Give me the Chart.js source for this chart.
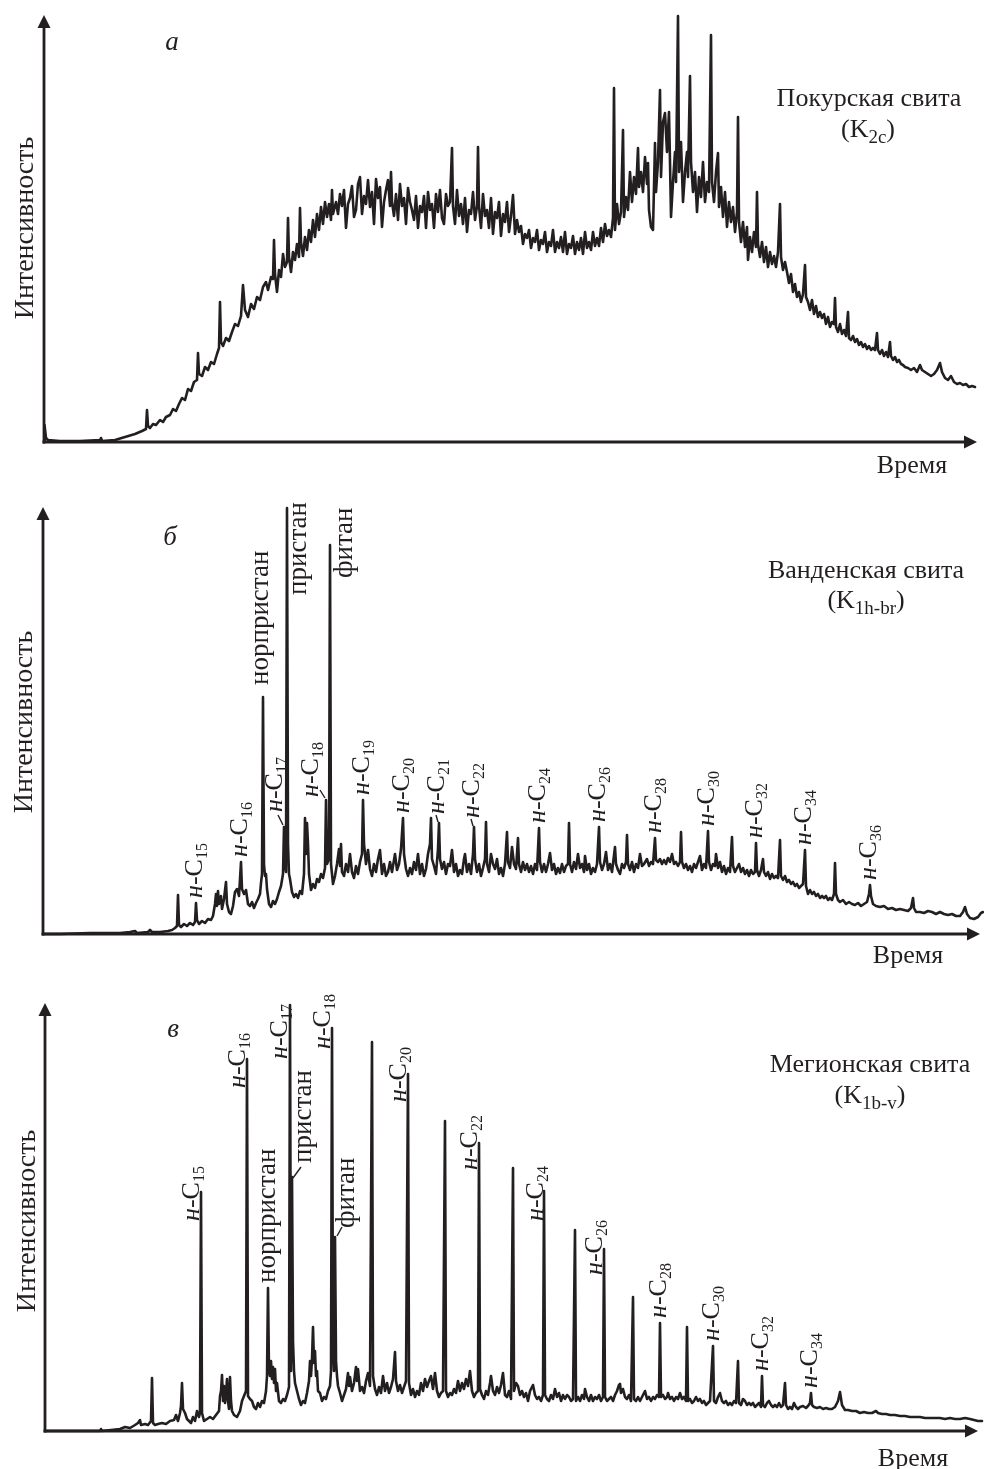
<!DOCTYPE html>
<html><head><meta charset="utf-8">
<script src="https://cdn.jsdelivr.net/npm/chart.js@4"></script>
<style>
html,body{margin:0;padding:0;background:#fff;}
body{width:984px;height:1469px;position:relative;overflow:hidden;}
canvas{position:absolute;left:0;}
</style></head>
<body>
<canvas id="ca" width="984" height="490" style="top:0px"></canvas>
<canvas id="cb" width="984" height="490" style="top:490px"></canvas>
<canvas id="cc" width="984" height="489" style="top:980px"></canvas>
<script>
// ---------- DATA (time, intensity) ----------
const chromatogramA = [
[44,0],[44.5,17],[46,4],[48,2],[60,1],[80,1],[100,2],[101,4],[102,1],[115,2],[125,5],[135,8],[142,11],[146,13],[147,32],[148,16],[150,14],[153,18],[156,17],[160,22],[163,20],[166,25],[170,27],[173,33],[176,31],[179,38],[182,44],[185,42],[188,53],[191,51],[194,60],[197,62],[198,89],[199,68],[202,66],[205,75],[208,72],[211,80],[214,78],[217,88],[219,94],[220,140],[221,100],[223,96],[226,104],[229,101],[232,110],[235,118],[238,116],[241,126],[243,157],[245,132],[248,125],[251,138],[254,133],[257,145],[260,142],[263,155],[266,160],[268,152],[271,165],[273,163],[274,202],[275,168],[277,150],[279,172],[281,165],[283,188],[285,175],[287,180],[288,224],[289,185],[291,170],[293,190],[295,182],[297,198],[299,185],[300,234],[301,200],[303,186],[305,205],[307,192],[309,212],[311,200],[313,222],[315,205],[317,228],[319,212],[321,235],[323,218],[325,240],[327,225],[329,238],[331,222],[332,252],[333,228],
[336,240],[338,228],[340,248],[342,236],[344,252],[346,214],[348,238],[350,244],[352,256],[354,225],[356,232],[358,258],[360,265],[362,228],[364,246],[366,238],[368,262],[370,235],[372,250],[374,218],[376,263],[378,244],[380,255],[382,215],[384,240],[386,252],[388,262],[390,236],[391,270],[392,240],[394,226],[396,248],[398,222],[400,258],[402,236],[404,244],[406,218],[408,254],[410,240],[412,232],[414,222],[416,246],[418,214],[420,236],[422,230],[424,246],[426,214],[428,250],[430,232],[432,238],[434,214],[436,248],[438,230],[440,252],[442,224],[444,218],[446,248],[448,236],[450,240],[452,294],[453,236],[455,218],[457,252],[459,226],[461,238],[463,218],[465,244],[467,210],[469,232],[471,228],[473,250],[475,222],[477,236],[478,295],[479,236],[481,214],[483,248],[485,226],[487,232],[489,214],[491,244],[493,208],[495,230],[497,224],[499,240],[501,206],[503,228],[505,220],[507,240],[509,210],[511,226],[513,247],[515,208],
[517,222],[519,210],[521,216],[523,198],[525,208],[527,204],[529,212],[531,194],[533,204],[535,200],[537,212],[539,192],[541,202],[543,198],[545,210],[547,190],[549,200],[551,196],[553,212],[555,190],[557,200],[559,194],[561,205],[563,190],[565,210],[567,188],[569,198],[571,194],[573,206],[575,188],[577,200],[579,192],[581,204],[583,188],[585,210],[587,194],[589,200],[591,192],[593,210],[595,196],[597,204],[599,196],[601,214],[603,200],[605,218],[607,206],[609,212],[611,205],[613,224],[614,354],[615,212],[617,238],[619,218],[621,230],[623,312],[624,225],[626,245],[628,232],[630,270],[632,240],[634,265],[636,248],[638,294],[639,255],[641,270],[643,250],[645,285],[647,258],[648,279],[649,232],[651,215],[653,212],[655,299],[656,250],[658,280],[660,352],[661,265],[663,320],[665,329],[667,290],[669,330],[670,280],[671,225],[673,260],[675,290],[676,260],[678,426],[679,270],[681,300],[683,240],[685,270],[687,290],[688,265],[690,366],[691,280],[693,250],[695,270],[697,230],[699,265],[701,245],[703,280],[705,240],[707,260],[709,250],[711,407],[712,260],[714,240],[716,270],[718,289],[719,235],[721,255],[723,225],[725,250],[727,215],[729,240],[731,220],[733,235],[735,210],[737,230],[738,325],[739,220],[741,200],[743,220],[745,195],[747,215],[748,182],[750,205],[752,190],[754,210],[756,195],[757,250],[758,198],[760,185],[762,200],[764,180],[766,195],[768,175],[770,190],[772,178],[774,186],[776,175],[778,190],[780,238],[781,185],[783,172],[785,180],[787,170],[789,159],[791,168],[793,150],[795,158],[797,145],[799,150],[801,140],[803,148],[805,177],[806,145],[808,140],[810,132],[812,142],[814,128],[816,136],[818,125],[820,130],[822,124],[824,128],[826,118],[828,125],[830,115],[832,120],[834,118],[835,144],[836,115],[838,110],[840,118],[842,108],[844,112],[846,106],[848,130],[849,104],[851,102],[853,106],[855,100],[857,103],[859,97],[861,100],[863,95],[865,98],[867,93],[869,96],[871,92],[873,94],[875,92],[877,109],[878,92],[880,88],[882,92],[884,86],[886,90],[888,85],[890,100],[891,86],[893,82],[895,85],[897,80],[899,82],[901,78],[903,77],[905,75],[908,74],[911,72],[914,74],[917,70],[920,77],[922,72],[925,70],[928,68],[931,66],[934,68],[937,72],[940,79],[942,70],[945,64],[948,62],[951,66],[954,60],[957,58],[960,59],[963,57],[966,58],[969,55],[972,56],[975,55]
];

const chromatogramB = [
[43,0],[60,0],[90,1],[110,1],[120,1],[130,2],[135,3],[137,1],[148,2],[150,4],[152,2],[160,2],[168,3],[172,4],[175,6],[177,8],[178,39],[179,9],[181,7],[184,10],[187,8],[190,11],[193,9],[195,12],[196,31],[197,14],[199,10],[202,13],[205,11],[208,15],[211,14],[213,18],[215,30],[216,40],[217,28],[218,43],[219,30],[221,38],[222,25],[224,35],[226,52],[227,30],[229,22],[231,20],[233,28],[235,42],[237,45],[239,38],[241,72],[242,45],[244,40],[246,44],[248,30],[250,28],[252,32],[254,26],[256,31],[258,35],[260,40],[261,51],[262,60],[263,237],[264,70],[265,58],[266,60],[267,45],[269,30],[271,27],[273,33],[275,30],[277,35],[279,42],[281,48],[283,60],[284,107],[285,70],[286,62],[287,426],[288,90],[289,60],[290,55],[292,42],[294,37],[296,40],[298,36],[300,43],[302,40],[304,60],[305,116],[306,80],[307,111],[308,90],[309,60],[311,44],[313,50],[315,46],[317,55],[319,52],[321,60],[323,56],[325,66],[326,134],[327,70],[329,75],[330,389],[331,70],[333,50],[335,58],[337,70],[339,85],[340,68],[341,90],[342,62],[344,58],[346,70],[348,62],[350,80],[352,62],[354,56],[356,68],[358,60],[360,72],[362,80],[363,134],[364,90],[366,70],[368,84],[370,65],[372,58],[374,70],[376,62],[378,75],[380,84],[382,60],[384,70],[386,58],[388,62],[390,72],[392,62],[395,80],[397,64],[399,70],[401,85],[403,116],[404,80],[406,65],[408,58],[410,66],[412,60],[414,72],[416,64],[418,80],[420,60],[422,70],[424,58],[426,65],[428,80],[430,90],[431,116],[432,75],[434,68],[436,60],[438,85],[439,111],[440,75],[442,65],[444,72],[446,60],[448,70],[450,68],[452,84],[454,62],[456,70],[458,58],[460,64],[462,60],[464,75],[465,80],[467,62],[469,70],[471,60],[473,80],[474,107],[475,75],[477,62],[479,70],[481,58],[483,66],[485,75],[486,112],[487,70],[489,62],[491,80],[493,70],[495,65],[497,75],[499,60],[501,66],[503,58],[505,70],[507,102],[508,72],[510,66],[512,87],[514,70],[516,65],[518,96],[519,70],[521,62],[523,72],[525,64],[527,70],[529,62],[531,68],[533,60],[535,70],[537,64],[539,106],[540,72],[542,62],[544,70],[546,62],[548,70],[550,81],[552,64],[554,70],[556,60],[558,66],[560,61],[562,70],[564,62],[566,68],[568,70],[569,111],[570,70],[572,62],[574,72],[576,65],[578,80],[580,66],[582,70],[584,62],[585,78],[587,64],[589,70],[591,60],[593,66],[595,62],[597,70],[599,107],[600,72],[602,64],[604,70],[606,82],[608,64],[610,70],[612,62],[615,87],[616,70],[618,64],[620,60],[622,70],[624,66],[626,72],[627,99],[628,70],[630,64],[632,72],[634,62],[636,70],[638,66],[640,80],[642,68],[644,70],[647,75],[649,68],[651,72],[653,70],[655,96],[656,74],[658,72],[660,75],[662,70],[664,74],[666,70],[668,76],[670,72],[672,80],[674,70],[676,72],[678,68],[680,72],[681,102],[682,72],[684,66],[686,70],[688,64],[690,68],[692,62],[694,70],[696,66],[698,72],[700,78],[702,64],[704,70],[706,66],[708,103],[709,72],[711,64],[713,70],[715,68],[716,80],[718,66],[720,72],[722,62],[724,68],[726,60],[728,66],[730,62],[732,97],[733,68],[735,62],[737,66],[739,70],[741,62],[743,66],[745,60],[747,64],[749,58],[751,64],[753,60],[755,62],[756,91],[757,64],[759,58],[761,64],[763,75],[764,62],[766,58],[768,62],[770,55],[772,60],[774,56],[776,58],[778,56],[780,94],[781,58],[783,54],[785,58],[787,52],[789,54],[791,50],[793,52],[795,48],[797,50],[799,46],[801,48],[803,50],[805,84],[806,48],[808,40],[810,44],[812,40],[814,42],[816,38],[818,40],[820,36],[822,38],[824,36],[826,38],[828,34],[830,36],[832,34],[834,40],[835,71],[836,40],[838,34],[840,32],[843,34],[846,30],[849,32],[852,30],[855,29],[858,31],[861,28],[864,30],[867,32],[869,40],[870,49],[871,38],[873,30],[876,28],[880,27],[884,28],[888,25],[892,26],[896,24],[900,25],[904,24],[908,23],[911,26],[913,36],[914,26],[916,22],[920,22],[924,21],[928,23],[932,22],[936,20],[940,22],[944,20],[948,19],[952,20],[956,18],[960,18],[963,22],[965,27],[967,20],[970,16],[974,15],[978,17],[981,21],[983,22]
];

const chromatogramC = [
[45,0],[70,0],[100,0],[101,2],[102,0],[120,2],[125,4],[130,3],[135,6],[138,8],[140,11],[141,6],[145,7],[148,6],[151,10],[152,53],[153,8],[155,6],[158,7],[162,8],[166,7],[170,10],[174,11],[176,16],[178,10],[180,18],[181,25],[182,48],[183,22],[185,18],[187,12],[189,10],[191,8],[193,14],[195,10],[197,20],[199,14],[200,18],[201,239],[202,18],[204,10],[207,12],[210,14],[213,12],[216,16],[219,20],[220,35],[221,40],[222,56],[223,30],[224,45],[225,28],[226,38],[227,52],[228,30],[229,22],[230,54],[231,30],[232,20],[234,16],[237,14],[240,20],[242,30],[244,35],[246,40],[247,372],[248,35],[250,32],[252,30],[254,24],[256,22],[258,28],[260,24],[262,30],[264,28],[266,40],[267,55],[268,143],[269,60],[270,55],[271,70],[272,52],[273,64],[274,48],[275,62],[276,40],[277,48],[279,30],[281,28],[283,32],[285,30],[287,36],[289,44],[290,426],[291,60],[292,254],[293,90],[294,60],[295,48],[297,40],[299,32],[301,26],[303,30],[305,28],[307,38],[309,50],[310,70],[311,55],[312,72],[313,104],[314,68],[315,80],[316,55],[317,60],[318,40],[320,38],[322,30],[324,34],[326,32],[328,40],[330,45],[331,60],[332,403],[333,80],[334,60],[335,194],[336,70],[337,55],[338,45],[340,38],[342,30],[344,36],[346,42],[348,58],[349,45],[350,54],[352,40],[354,48],[356,64],[357,50],[358,62],[360,40],[362,44],[364,38],[366,50],[368,58],[370,45],[372,389],[373,55],[375,42],[377,36],[379,44],[381,38],[383,55],[385,40],[387,48],[389,38],[391,44],[393,52],[395,79],[396,50],[398,40],[400,46],[402,38],[404,44],[406,50],[408,357],[409,48],[411,36],[413,42],[415,34],[417,40],[419,36],[421,48],[423,40],[425,52],[427,44],[429,50],[431,55],[433,42],[435,58],[437,40],[439,34],[441,38],[443,40],[445,310],[446,40],[448,34],[450,38],[452,36],[454,42],[456,38],[458,50],[460,40],[462,48],[464,42],[466,52],[468,45],[470,60],[472,40],[474,34],[476,38],[478,40],[479,288],[480,42],[482,36],[484,32],[486,40],[488,36],[490,48],[491,55],[493,40],[495,36],[497,44],[499,38],[501,46],[503,58],[505,36],[507,34],[509,40],[511,32],[513,263],[514,40],[516,48],[518,45],[520,36],[522,40],[524,34],[526,38],[528,30],[530,40],[533,46],[535,36],[537,32],[539,34],[541,30],[543,36],[544,240],[545,36],[547,32],[549,30],[551,36],[553,32],[555,42],[557,34],[559,38],[561,30],[563,36],[565,32],[567,36],[569,34],[571,30],[573,32],[575,201],[576,30],[578,34],[580,30],[582,36],[584,32],[585,42],[587,34],[589,30],[591,36],[593,30],[595,34],[597,32],[599,36],[601,30],[603,34],[604,182],[605,34],[607,30],[609,32],[611,34],[613,30],[615,36],[617,40],[619,46],[620,47],[621,38],[623,42],[625,34],[627,32],[629,36],[631,30],[633,134],[634,32],[636,30],[638,34],[640,30],[642,34],[644,38],[645,40],[647,32],[649,34],[651,30],[653,34],[655,32],[657,36],[659,34],[660,108],[661,34],[663,36],[665,32],[667,34],[668,38],[670,32],[672,34],[674,30],[676,34],[678,32],[680,38],[682,32],[684,34],[686,30],[687,104],[688,30],[690,32],[692,28],[694,30],[696,34],[698,30],[700,32],[702,28],[704,30],[706,26],[708,28],[710,30],[713,85],[714,30],[716,28],[718,34],[720,38],[722,30],[724,28],[726,30],[728,26],[730,28],[732,26],[734,30],[736,28],[738,70],[739,28],[741,26],[743,32],[745,30],[747,26],[749,28],[751,26],[753,28],[755,24],[757,26],[759,28],[761,24],[762,55],[763,26],[765,24],[767,28],[769,30],[771,26],[773,24],[775,26],[777,24],[779,28],[781,24],[783,26],[785,48],[786,26],[788,22],[790,24],[792,22],[794,28],[796,24],[798,22],[800,24],[803,25],[806,23],[808,25],[810,28],[811,38],[812,26],[814,24],[817,23],[820,24],[823,22],[826,23],[829,22],[832,22],[835,24],[838,30],[840,39],[842,26],[845,21],[848,21],[852,20],[856,20],[860,18],[864,19],[868,18],[872,18],[876,20],[878,18],[882,17],[886,17],[890,16],[895,16],[900,15],[905,15],[910,14],[915,14],[920,14],[925,13],[930,13],[935,13],[940,13],[945,12],[950,13],[955,12],[960,12],[965,13],[970,12],[974,11],[978,10],[982,10]
];

// peak names and the retention time of each labelled peak
const peakNamesB = ['н-C15','н-C16','норпристан','н-C17','пристан','н-C18','фитан','н-C19','н-C20','н-C21','н-C22','н-C24','н-C26','н-C28','н-C30','н-C32','н-C34','н-C36'];
const peakTimesB = [196,241,263,284,287,326,330,363,403,439,474,539,599,655,708,756,805,870];
const peakNamesC = ['н-C15','н-C16','норпристан','н-C17','пристан','н-C18','фитан','н-C20','н-C22','н-C24','н-C26','н-C28','н-C30','н-C32','н-C34'];
const peakTimesC = [201,247,268,290,292,332,335,408,479,544,604,660,713,762,811];

// text
const panelLetters = ['а','б','в'];
const formationNames = ['Покурская свита','Ванденская свита','Мегионская свита'];
const formationIndex = ['2c','1h-br','1b-v'];
const yTitle = 'Интенсивность';
const xTitle = 'Время';

// ---------- STYLE / LAYOUT ----------
const INK = '#231f20';
const SERIF = "'Liberation Serif','Times New Roman','DejaVu Serif',serif";

// label placement: dx = baseline offset from peak (px), dy = start of text from peak top (px), tick = leader line offsets
const placeB = {
  'норпристан':{dx:5,dy:-12}, 'пристан':{dx:19,dy:87}, 'фитан':{dx:22,dy:33},
  'н-C17':{dx:-2,dy:-15,tick:[-1,-2,-6,-12]}, 'н-C18':{dx:-8,dy:-3,tick:[-1,-2,-6,-10]},
  'н-C21':{dx:5,dy:-9,tick:[-1,-1,-3,-8]}, 'н-C22':{dx:5,dy:-9,tick:[-1,-1,-3,-8]}
};
const placeC = {
  'н-C15':{dx:-2,dy:29}, 'н-C16':{dx:-2,dy:29}, 'н-C20':{dx:-2,dy:28}, 'н-C22':{dx:-2,dy:27},
  'н-C24':{dx:-1,dy:30}, 'н-C26':{dx:-2,dy:26},
  'н-C17':{dx:-3,dy:54}, 'н-C18':{dx:-2,dy:21},
  'норпристан':{dx:7,dy:-5},
  'пристан':{dx:19,dy:-14,tick:[1,1,9,-10]},
  'фитан':{dx:19,dy:-9,tick:[2,-1,7,-10]}
};

const panels = [
  {id:'ca', data:chromatogramA, xmin:44, xmax:984, axisEnd:977, ymax:427, pad:{left:44,right:0,top:15,bottom:48},
   letterPos:[172,50], namePos:[869,106], indexPos:[868,137], timePos:[912,473], yTitlePos:[33,228], names:[], times:[], place:{}},
  {id:'cb', data:chromatogramB, xmin:43, xmax:984, axisEnd:980, ymax:427, pad:{left:43,right:0,top:17,bottom:46},
   letterPos:[170,55], namePos:[866,88], indexPos:[866,118], timePos:[908,473], yTitlePos:[32,232], names:peakNamesB, times:peakTimesB, place:placeB},
  {id:'cc', data:chromatogramC, xmin:45, xmax:984, axisEnd:978, ymax:428, pad:{left:45,right:0,top:23,bottom:38},
   letterPos:[173,57], namePos:[870,92], indexPos:[870,123], timePos:[913,486], yTitlePos:[35,241], names:peakNamesC, times:peakTimesC, place:placeC}
];

function font(size, italic){ return (italic?'italic ':'') + size + 'px ' + SERIF; }
function partsWidth(ctx, parts){ let w=0; for(const p of parts){ ctx.font=font(p.size,p.italic); w+=ctx.measureText(p.text).width; } return w; }
function drawParts(ctx, parts, x, y){ let cx=x; for(const p of parts){ ctx.font=font(p.size,p.italic); ctx.fillText(p.text, cx, y+(p.dy||0)); cx+=ctx.measureText(p.text).width; } }
function labelParts(name){
  if(name.indexOf('н-C')===0) return [{text:'н',size:26,italic:true},{text:'-C',size:26},{text:name.slice(3),size:16,dy:5}];
  return [{text:name,size:27}];
}
function peakHeight(data, t){ let best=0; for(const p of data){ if(Math.abs(p[0]-t)<0.01 && p[1]>best) best=p[1]; } return best; }

const panelPlugin = {
  id:'panelDecor',
  beforeDatasetsDraw(chart){
    const P = chart.options.plugins.panelDecor.cfg;
    const ctx = chart.ctx, xs = chart.scales.x, ys = chart.scales.y;
    const ox = xs.getPixelForValue(P.xmin), oy = ys.getPixelForValue(0);
    const yt = ys.getPixelForValue(P.ymax), xt = xs.getPixelForValue(P.axisEnd);
    ctx.save();
    ctx.strokeStyle = INK; ctx.fillStyle = INK; ctx.lineWidth = 2.8; ctx.lineCap='butt';
    ctx.beginPath(); ctx.moveTo(ox, oy+1.4); ctx.lineTo(ox, yt+10); ctx.stroke();
    ctx.beginPath(); ctx.moveTo(ox, yt); ctx.lineTo(ox-6.5, yt+13); ctx.lineTo(ox+6.5, yt+13); ctx.closePath(); ctx.fill();
    ctx.beginPath(); ctx.moveTo(ox-1.4, oy); ctx.lineTo(xt-10, oy); ctx.stroke();
    ctx.beginPath(); ctx.moveTo(xt, oy); ctx.lineTo(xt-13, oy-6.5); ctx.lineTo(xt-13, oy+6.5); ctx.closePath(); ctx.fill();
    ctx.restore();
  },
  afterDatasetsDraw(chart){
    const P = chart.options.plugins.panelDecor.cfg;
    const idx = chart.options.plugins.panelDecor.index;
    const ctx = chart.ctx, xs = chart.scales.x, ys = chart.scales.y;
    ctx.save();
    ctx.fillStyle = INK; ctx.strokeStyle = INK; ctx.textBaseline = 'alphabetic';
    // panel letter
    ctx.textAlign = 'center';
    ctx.font = font(27, true); ctx.fillText(panelLetters[idx], P.letterPos[0], P.letterPos[1]);
    // formation
    ctx.font = font(26, false); ctx.fillText(formationNames[idx], P.namePos[0], P.namePos[1]);
    ctx.textAlign = 'left';
    const ip = [{text:'(K',size:26},{text:formationIndex[idx],size:19,dy:6},{text:')',size:26}];
    drawParts(ctx, ip, P.indexPos[0]-partsWidth(ctx, ip)/2, P.indexPos[1]);
    // axis titles
    ctx.textAlign = 'center';
    ctx.font = font(26, false); ctx.fillText(xTitle, P.timePos[0], P.timePos[1]);
    ctx.save(); ctx.translate(P.yTitlePos[0], P.yTitlePos[1]); ctx.rotate(-Math.PI/2);
    ctx.font = font(28, false); ctx.fillText(yTitle, 0, 0); ctx.restore();
    // peak labels
    ctx.textAlign = 'left';
    P.names.forEach((name, i) => {
      const t = P.times[i];
      const px = xs.getPixelForValue(t), py = ys.getPixelForValue(peakHeight(P.data, t));
      const pl = P.place[name] || {dx:6, dy:-5};
      const parts = labelParts(name);
      ctx.save(); ctx.translate(px + pl.dx, py + pl.dy); ctx.rotate(-Math.PI/2);
      drawParts(ctx, parts, 0, 0);
      ctx.restore();
      if (pl.tick) {
        ctx.lineWidth = 1.4;
        ctx.beginPath(); ctx.moveTo(px+pl.tick[0], py+pl.tick[1]); ctx.lineTo(px+pl.tick[2], py+pl.tick[3]); ctx.stroke();
      }
    });
    ctx.restore();
  }
};

panels.forEach((P, idx) => {
  new Chart(document.getElementById(P.id), {
    type:'line',
    data:{ datasets:[{ data:P.data.map(p => ({x:p[0], y:p[1]})), borderColor:INK, borderWidth:2.6, pointRadius:0,
      tension:0, fill:false, borderJoinStyle:'round', borderCapStyle:'round', clip:false }] },
    options:{
      responsive:false, animation:false, devicePixelRatio:1, events:[],
      layout:{ padding:P.pad },
      scales:{
        x:{ type:'linear', min:P.xmin, max:P.xmax, display:false },
        y:{ type:'linear', min:0, max:P.ymax, display:false }
      },
      plugins:{ legend:{display:false}, tooltip:{enabled:false}, panelDecor:{cfg:P, index:idx} }
    },
    plugins:[panelPlugin]
  });
});
</script>
</body></html>
